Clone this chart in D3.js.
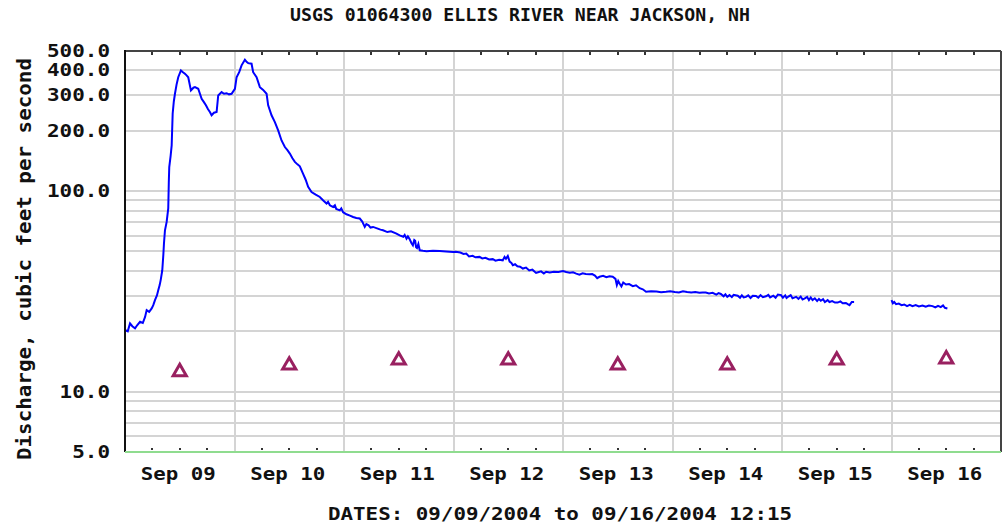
<!DOCTYPE html>
<html>
<head>
<meta charset="utf-8">
<script src="https://cdn.jsdelivr.net/npm/d3@7"></script>
<style>
  html, body { margin: 0; padding: 0; background: #fff; }
  svg { display: block; }
  text { font-family: "DejaVu Sans Mono", "Liberation Mono", monospace; font-weight: bold; fill: #111; }
</style>
</head>
<body>
<svg id="chart" width="1007" height="526"></svg>
<script>
// ---------------- data ----------------
const title = "USGS 01064300 ELLIS RIVER NEAR JACKSON, NH";
const yAxisTitle = "Discharge, cubic feet per second";
const xAxisTitle = "DATES: 09/09/2004 to 09/16/2004 12:15";
const startDate = new Date(2004, 8, 9, 0, 0);
const endDate = new Date(2004, 8, 17, 0, 0);

// [hours since 09/09/2004 00:00, discharge ft3/s]; null = missing record
const flowReadings = [
  [0, 20.3], [0.6, 20.0], [1.1, 21.9], [1.6, 21.2], [2.2, 20.7], [2.7, 21.5], [3.3, 22.3], [3.9, 22.0],
  [4.4, 23.6], [4.75, 25.5], [5.3, 25.0], [5.85, 26.0], [6.2, 27.0], [6.57, 28.6], [7.0, 30.2], [7.3, 32.1],
  [7.6, 34.0], [7.82, 36.0], [8.17, 40.3], [8.4, 48], [8.54, 54.8], [8.76, 63.8], [9.13, 70.2], [9.48, 82.1],
  [9.6, 110], [9.7, 131.9], [10.0, 150], [10.23, 169], [10.45, 244], [10.7, 280], [10.95, 306], [11.3, 340],
  [11.67, 370], [12.26, 400], [12.7, 392], [13.14, 385], [13.5, 378], [13.86, 370], [14.45, 318], [15.0, 328],
  [15.33, 330], [16.05, 324], [16.8, 289], [17.3, 278], [17.74, 268], [18.2, 256], [18.61, 248], [18.98, 239],
  [19.5, 246], [20.08, 248], [20.43, 300], [21.17, 312], [21.7, 306], [22.27, 308], [22.8, 304], [23.36, 306],
  [24.09, 324], [24.46, 370], [25.03, 392], [25.55, 424], [26.28, 452], [26.7, 440], [27.0, 435], [27.74, 432],
  [28.09, 392], [28.84, 370], [29.56, 330], [30.28, 320], [31.03, 306], [31.38, 268], [32.12, 239], [32.85, 221],
  [33.57, 201], [34.31, 179], [35.04, 166], [35.6, 160], [36.13, 154], [36.7, 146], [37.23, 140], [37.8, 136],
  [38.32, 133], [39.04, 122], [39.6, 114], [40.14, 105], [40.88, 99], [41.8, 96], [42.7, 93.5], [43.4, 90],
  [44.17, 86.7], [44.5, 88.5], [44.9, 85], [45.61, 83.4], [46.0, 85.0], [46.3, 81.5], [47.08, 80.2], [47.4, 82.0],
  [47.8, 78.5], [48.54, 76.7], [49.3, 75.5], [50.0, 74.3], [50.7, 73.5], [51.46, 73.0], [52.0, 70.5], [52.55, 66.3],
  [52.9, 68.5], [53.4, 67.5], [53.8, 65.8], [54.37, 66.3], [55.4, 65.0], [56.0, 64.3], [56.56, 63.8], [57.5, 62.5],
  [58.3, 63.0], [59.5, 61.4], [60.2, 60.2], [61.0, 59.2], [61.3, 60.5], [61.7, 58.0], [62.0, 59.5], [62.4, 57.5],
  [62.8, 55.0], [63.1, 53.7], [63.4, 57.0], [63.6, 56.5], [63.8, 52.5], [64.0, 52.0], [64.3, 54.5], [64.6, 50.7],
  [65.3, 50.4], [66.1, 50.2], [67.5, 50.4], [69.0, 50.3], [70.4, 50.0], [71.9, 49.7], [72.5, 49.9], [73.5, 49.4],
  [74.2, 48.6], [74.8, 48.8], [75.4, 47.2], [76.2, 47.6], [76.8, 46.8], [77.7, 47.0], [78.3, 46.2], [79.0, 46.5],
  [79.8, 45.6], [80.6, 45.8], [81.2, 45.0], [82.0, 45.5], [82.8, 45.2], [83.2, 47.0], [83.5, 46.0], [83.9, 47.5],
  [84.3, 44.5], [84.7, 43.8], [85.0, 42.7], [85.5, 43.2], [86.0, 42.2], [86.6, 42.0], [87.2, 41.1], [87.9, 41.6],
  [88.6, 40.2], [89.3, 40.6], [90.1, 39.1], [90.7, 39.5], [91.2, 39.8], [91.8, 38.8], [92.3, 39.6], [93.1, 39.3],
  [94.0, 39.6], [95.0, 39.5], [96.0, 40.0], [96.7, 39.5], [97.5, 39.2], [98.2, 39.4], [98.9, 38.8], [99.6, 38.3],
  [100.3, 38.9], [101.0, 38.6], [101.8, 38.5], [102.4, 38.6], [103.0, 37.9], [103.5, 36.8], [104.0, 37.4], [104.8, 37.8],
  [105.5, 37.2], [106.2, 37.6], [106.9, 37.4], [107.5, 36.5], [107.8, 34.0], [108.1, 35.6], [108.4, 34.6], [108.8, 33.5],
  [109.2, 35.0], [109.8, 34.2], [110.5, 34.4], [111.3, 33.6], [112.0, 33.9], [112.8, 32.8], [113.5, 32.4], [114.2, 31.5],
  [115.3, 31.7], [116.5, 31.6], [117.5, 31.3], [118.6, 31.5], [119.5, 31.7], [120.5, 31.4], [121.4, 31.2], [122.3, 31.7],
  [123.2, 31.4], [124.1, 31.2], [125.0, 31.4], [125.9, 31.1], [126.6, 31.2], [127.3, 31.2], [128.0, 30.9], [128.8, 31.1],
  [129.6, 30.5], [130.1, 31.0], [130.6, 30.7], [131.2, 29.9], [131.6, 30.6], [132.0, 29.7], [132.5, 30.3], [133.0, 29.6],
  [133.4, 30.4], [134.3, 30.1], [134.8, 29.4], [135.2, 30.2], [135.6, 29.5], [136.1, 29.7], [136.6, 30.2], [137.1, 29.3],
  [137.6, 30.1], [138.3, 30.0], [138.8, 29.4], [139.3, 30.3], [139.8, 29.6], [140.5, 29.9], [141.0, 30.4], [141.4, 29.5],
  [142.1, 30.1], [142.6, 29.4], [143.1, 30.5], [143.8, 30.3], [144.2, 29.4], [144.7, 30.2], [145.0, 29.3], [145.4, 29.8],
  [145.9, 30.3], [146.3, 29.2], [147.1, 29.7], [147.6, 29.0], [148.1, 29.8], [148.5, 28.8], [149.0, 29.2], [149.5, 29.7],
  [149.9, 28.6], [150.3, 29.5], [150.7, 28.6], [151.2, 29.2], [151.7, 28.3], [152.1, 29.0], [152.5, 28.4], [153.0, 28.9],
  [153.4, 28.0], [154.0, 28.6], [154.4, 28.0], [155.0, 28.3], [155.6, 27.8], [156.2, 27.8], [156.8, 28.2], [157.3, 27.6],
  [158.0, 27.7], [158.4, 27.3], [158.8, 27.0], [159.3, 28.0], [159.8, 28.0], [159.9, null],
  [168.0, 28.6], [168.3, 27.6], [168.6, 28.0], [169.0, 27.3], [169.6, 27.5], [170.2, 27.0], [170.8, 27.2], [171.4, 26.7],
  [172.0, 27.1], [172.6, 26.7], [173.3, 27.0], [174.0, 26.6], [174.8, 26.9], [175.5, 26.5], [176.2, 26.9], [177.0, 26.7],
  [177.6, 26.3], [178.2, 26.8], [178.8, 26.4], [179.3, 26.9], [179.7, 26.2], [180.25, 26.0]
];

// median daily statistic (triangles), one per day at noon
const medianDays = [0, 1, 2, 3, 4, 5, 6, 7];
const medianValues = [12.7, 13.7, 14.5, 14.5, 13.7, 13.7, 14.5, 14.7];

const yTickValues = [5, 10, 100, 200, 300, 400, 500];
const yGridValues = [6, 7, 8, 9, 10, 20, 30, 40, 50, 60, 70, 80, 90, 100, 200, 300, 400];

// ---------------- layout ----------------
const svg = d3.select("#chart");
const plotLeft = 125, plotRight = 1001, plotTop = 51, plotBottom = 452;

const x = d3.scaleTime().domain([startDate, endDate]).range([plotLeft, plotRight]);
const y = d3.scaleLog().domain([5, 500]).range([plotBottom, plotTop]);

const hourToDate = h => new Date(startDate.getTime() + h * 3600e3);

// horizontal grid
svg.append("g").selectAll("line").data(yGridValues).join("line")
  .attr("x1", plotLeft).attr("x2", plotRight)
  .attr("y1", d => Math.round(y(d))).attr("y2", d => Math.round(y(d)))
  .attr("stroke", "#d4d4d4").attr("stroke-width", 2);

// vertical day grid
const dayLines = d3.timeDay.range(d3.timeDay.offset(startDate, 1), endDate);
svg.append("g").selectAll("line").data(dayLines).join("line")
  .attr("x1", d => Math.round(x(d))).attr("x2", d => Math.round(x(d)))
  .attr("y1", plotTop).attr("y2", plotBottom)
  .attr("stroke", "#d4d4d4").attr("stroke-width", 2);

// 6-hour minor ticks (top ticks & bottom dots)
const sixHours = d3.timeHour.every(6).range(startDate, endDate).filter(d => d.getHours() !== 0);
svg.append("g").selectAll("line").data(sixHours).join("line")
  .attr("x1", d => Math.round(x(d))).attr("x2", d => Math.round(x(d)))
  .attr("y1", plotTop).attr("y2", plotTop + 4)
  .attr("stroke", "#333").attr("stroke-width", 2);
svg.append("g").selectAll("rect").data(sixHours).join("rect")
  .attr("x", d => Math.round(x(d)) - 1).attr("y", plotBottom - 4)
  .attr("width", 2).attr("height", 2).attr("fill", "#333");

// data line
const series = flowReadings.map(([h, v]) => ({ t: hourToDate(h), v }));
const line = d3.line()
  .defined(d => d.v != null)
  .x(d => x(d.t)).y(d => y(d.v));
svg.append("path").datum(series)
  .attr("fill", "none").attr("stroke", "#0000ff").attr("stroke-width", 2)
  .attr("stroke-linejoin", "miter")
  .attr("d", line);

// median triangles
const tri = d3.symbol().type(d3.symbolTriangle).size(75);
svg.append("g").selectAll("path").data(medianDays).join("path")
  .attr("transform", (d, i) => `translate(${x(d3.timeHour.offset(d3.timeDay.offset(startDate, d), 12))},${y(medianValues[i]) + 1})`)
  .attr("d", tri)
  .attr("fill", "#fff").attr("stroke", "#992060").attr("stroke-width", 3);

// frame
svg.append("line").attr("x1", plotLeft).attr("x2", plotRight).attr("y1", plotTop).attr("y2", plotTop)
  .attr("stroke", "#444").attr("stroke-width", 2);
svg.append("line").attr("x1", plotRight).attr("x2", plotRight).attr("y1", plotTop).attr("y2", plotBottom)
  .attr("stroke", "#444").attr("stroke-width", 2);
svg.append("line").attr("x1", plotLeft).attr("x2", plotLeft).attr("y1", plotTop - 1).attr("y2", plotBottom)
  .attr("stroke", "#111").attr("stroke-width", 2);
svg.append("line").attr("x1", plotLeft).attr("x2", plotRight).attr("y1", plotBottom).attr("y2", plotBottom)
  .attr("stroke", "#8fdc8f").attr("stroke-width", 2);

// y axis labels
const yAxis = d3.axisLeft(y).tickValues(yTickValues).tickFormat(d3.format(".1f")).tickSize(0).tickPadding(15);
const gy = svg.append("g").attr("transform", `translate(${plotLeft},0)`).call(yAxis);
gy.select(".domain").remove();
gy.selectAll("text")
  .style("font-size", "17px").attr("fill", "#111")
  .attr("textLength", function () { return this.textContent.length * 12.6; })
  .attr("lengthAdjust", "spacingAndGlyphs");

// x axis labels at noon
const noons = d3.timeDay.range(startDate, endDate).map(d => d3.timeHour.offset(d, 12));
const xAxis = d3.axisBottom(x).tickValues(noons).tickFormat(d3.timeFormat("%b %d")).tickSize(0).tickPadding(16);
const gx = svg.append("g").attr("transform", `translate(-2,${plotBottom})`).call(xAxis);
gx.select(".domain").remove();
gx.selectAll("text")
  .style("font-size", "17px").attr("fill", "#111")
  .attr("textLength", 75).attr("lengthAdjust", "spacingAndGlyphs");

// titles
svg.append("text").attr("x", 520).attr("y", 21).attr("text-anchor", "middle")
  .style("font-size", "18px")
  .attr("textLength", 460).attr("lengthAdjust", "spacingAndGlyphs")
  .text(title);
svg.append("text").attr("x", 560).attr("y", 520).attr("text-anchor", "middle")
  .style("font-size", "18px")
  .attr("textLength", 464).attr("lengthAdjust", "spacingAndGlyphs")
  .text(xAxisTitle);
svg.append("text").attr("transform", "translate(31,259) rotate(-90)").attr("text-anchor", "middle")
  .style("font-size", "20px")
  .attr("textLength", 402).attr("lengthAdjust", "spacingAndGlyphs")
  .text(yAxisTitle);
</script>
</body>
</html>
